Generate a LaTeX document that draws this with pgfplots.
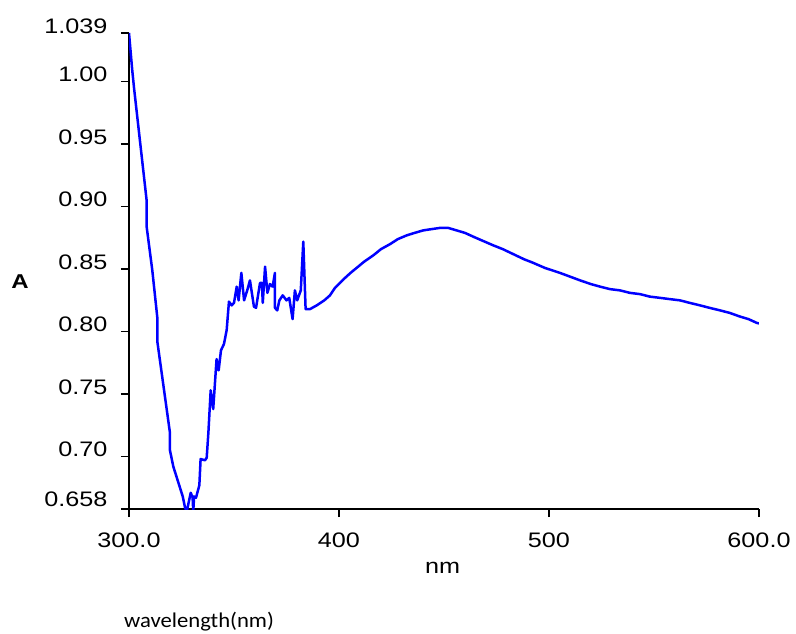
\documentclass[border=0pt]{standalone}
\usepackage{fontspec}
\setmainfont{Liberation Sans}[FakeStretch=1.2]
\newfontfamily\calibri{Carlito}[FakeStretch=1.08]
\usepackage{pgfplots}
\pgfplotsset{compat=1.18}
\definecolor{specblue}{RGB}{0,0,255}
\begin{document}
\begin{tikzpicture}
\useasboundingbox (-129pt,-124pt) rectangle (667pt,509pt);
\begin{axis}[
  anchor=south west, at={(0pt,0pt)},
  scale only axis, width=630pt, height=476pt,
  xmin=300, xmax=600, ymin=0.658, ymax=1.039,
  axis lines=left, axis line style={-, line width=1.8pt, black},
  tick align=outside, major tick length=8pt,
  tick style={line width=1.5pt, black},
  xtick={300,400,500,600}, xticklabels={300.0,400,500,600.0},
  ytick={0.658,0.70,0.75,0.80,0.85,0.90,0.95,1.00,1.039},
  yticklabels={\raisebox{5pt}{0.658},0.70,0.75,0.80,0.85,0.90,0.95,1.00,1.039},
  /pgf/number format/assume math mode=true,
  every tick label/.append style={font=\fontsize{21}{24}\selectfont},
  yticklabel style={yshift=7pt, xshift=-10pt},
  xticklabel style={yshift=-12pt},
  clip mode=individual,
]
\addplot[specblue, line width=2.5pt, line join=round] coordinates {
(300,1.039) (301.5,1.010) (302.4,0.995) (308.4,0.905) (308.4,0.884)
(311.1,0.849) (313.5,0.811) (313.5,0.792) (319.5,0.719) (319.5,0.705)
(321.1,0.692) (325.6,0.668) (326.7,0.659) (327.5,0.656) (329.4,0.671)
(330.3,0.667) (330.6,0.656) (331,0.668) (331.9,0.667) (333.5,0.677)
(334.1,0.698) (336.2,0.697) (337,0.699) (337.8,0.719) (338.9,0.753)
(340.1,0.738) (341.7,0.778) (342.7,0.769) (343.8,0.785) (345.2,0.790)
(346.5,0.801) (347.6,0.824) (348.9,0.821) (350,0.823) (351.3,0.836)
(352.2,0.825) (353.5,0.847) (354.8,0.825) (356.3,0.833) (357.6,0.841)
(359.5,0.820) (360.5,0.819) (362.4,0.839) (363.3,0.839) (363.7,0.823)
(364.8,0.852) (365.9,0.831) (367.1,0.838) (368.4,0.836) (369.5,0.847)
(369.5,0.819) (370.6,0.817) (371.6,0.825) (373.2,0.829) (375,0.825)
(376.3,0.827) (377.9,0.810) (379,0.833) (380.1,0.825) (381.8,0.833)
(383,0.872) (384.1,0.818) (386.2,0.818) (389.4,0.821) (393,0.825)
(395.7,0.829) (398.1,0.835) (400.5,0.839) (402.9,0.843) (405.5,0.847)
(408.4,0.851) (412,0.856) (416.3,0.861) (420,0.866) (424.3,0.870)
(428,0.874) (432.2,0.877) (436,0.879) (440.1,0.881) (444,0.882)
(448.1,0.883) (452,0.883) (456,0.881) (460,0.879) (463.9,0.876)
(468,0.873) (473.5,0.869) (478,0.866) (483,0.862) (488,0.858)
(492.5,0.855) (498,0.851) (505.2,0.847) (510,0.844) (514.8,0.841)
(520,0.838) (524.3,0.836) (529,0.834) (533.8,0.833) (538.5,0.831)
(543.3,0.830) (548,0.828) (552.9,0.827) (557.5,0.826) (562.4,0.825)
(567,0.823) (571.9,0.821) (576.5,0.819) (581.4,0.817) (586,0.815)
(591,0.812) (595,0.810) (598.9,0.807) (600,0.8065)
};
\node[font=\bfseries\fontsize{20}{24}\selectfont] at (axis description cs:-0.173,0.477) {A};
\node[font=\fontsize{21}{24}\selectfont] at (axis description cs:0.498,-0.124) {nm};
\node[anchor=west, font=\calibri\fontsize{21}{24}\selectfont, inner sep=0pt] at (axis description cs:-0.008,-0.237) {wavelength(nm)};
\end{axis}
\end{tikzpicture}
\end{document}
